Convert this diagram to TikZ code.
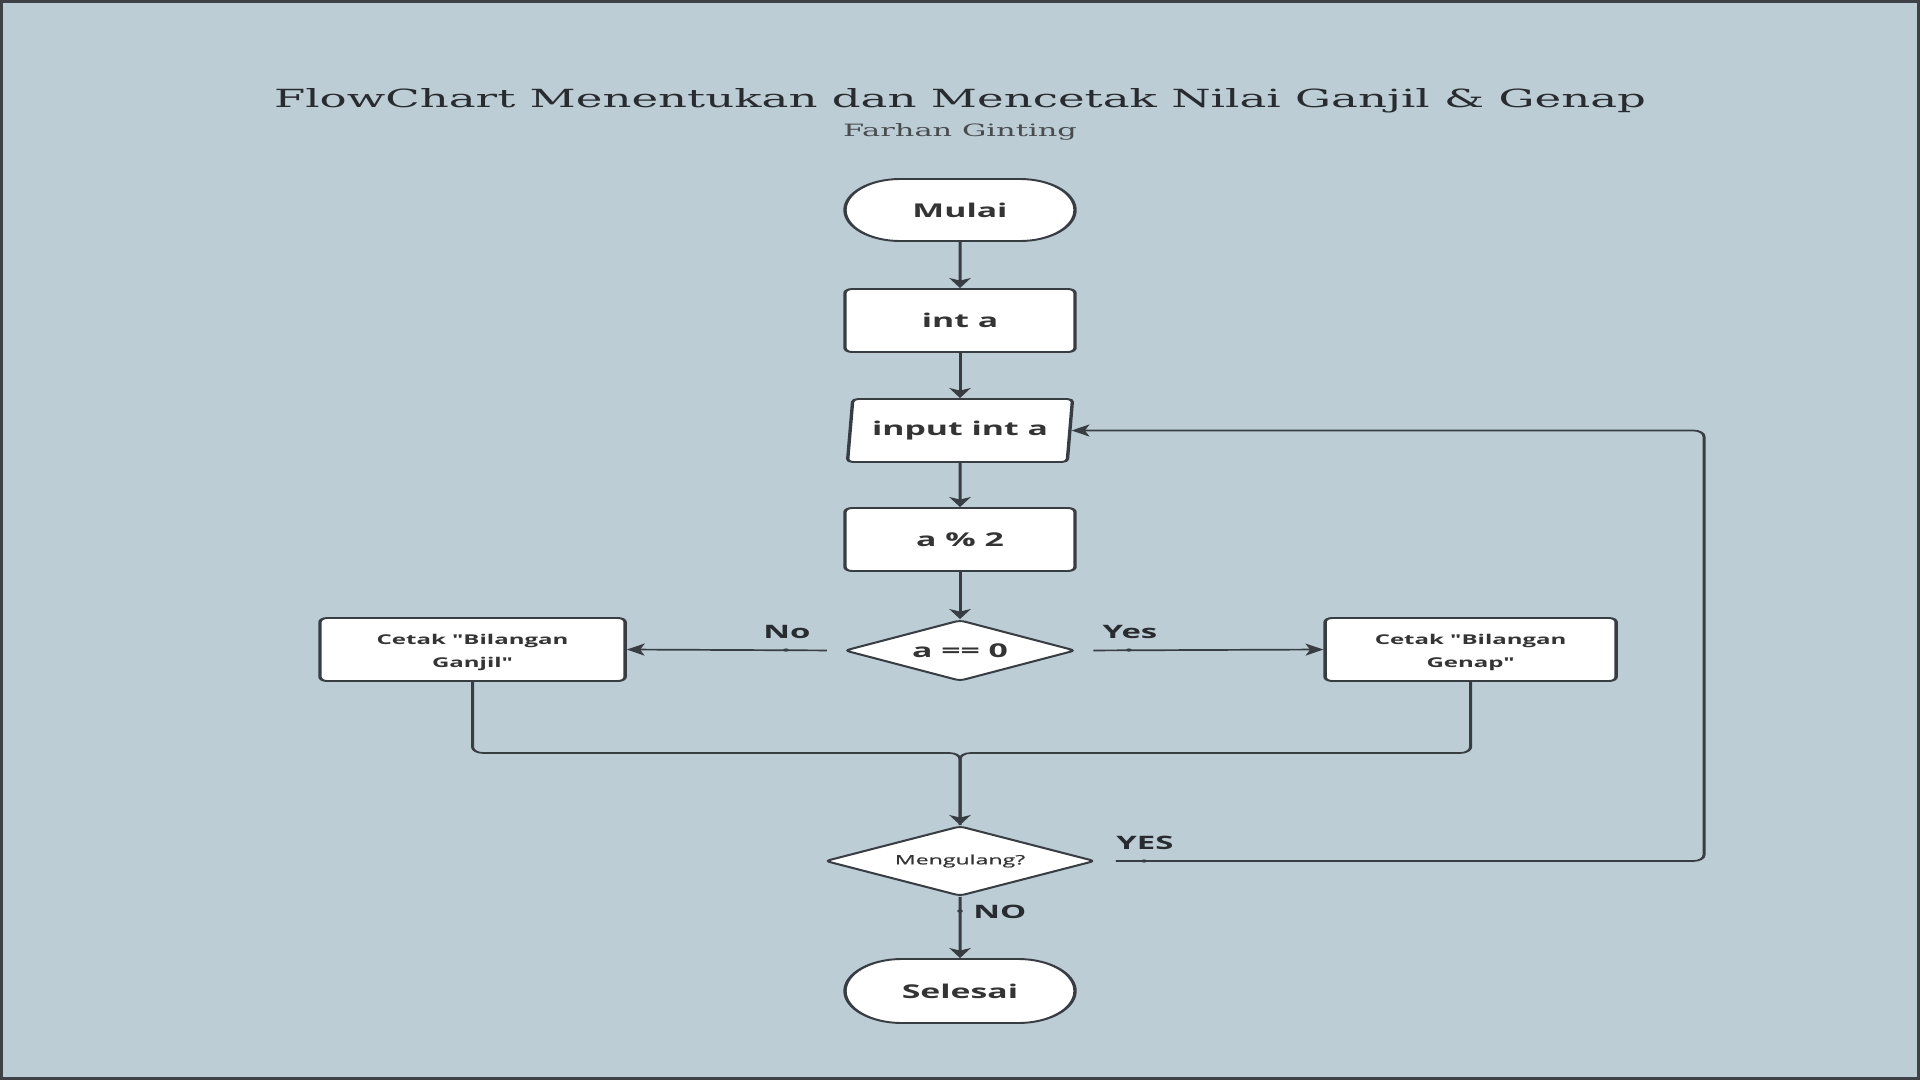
\documentclass[tikz,border=0pt]{standalone}
\usepackage{fontspec}
\setmainfont{Open Sans}[Ligatures=TeXOff]
\newfontfamily\titlefont{DejaVu Serif}
\newfontfamily\medfont{Open Sans}[FakeBold=0.6]
\usetikzlibrary{shapes.geometric,shapes.misc,arrows.meta,calc}
\definecolor{bgc}{RGB}{189,205,213}
\definecolor{linec}{RGB}{56,61,67}
\definecolor{txtc}{RGB}{52,52,52}
\definecolor{framec}{RGB}{62,66,70}
\definecolor{titlec}{RGB}{40,44,48}
\newlength\tw
\newlength\sw
\begin{document}
\settowidth\tw{\titlefont\fontsize{25}{25}\selectfont FlowChart Menentukan dan Mencetak Nilai Ganjil \& Genap}%
\pgfmathsetmacro\tsx{1372/\tw}%
\settowidth\sw{\titlefont\fontsize{17}{17}\selectfont Farhan Ginting}%
\pgfmathsetmacro\ssx{234/\sw}%
\begin{tikzpicture}[x=1pt,y=-1pt,
  shp/.style={draw=linec, line width=1.9pt, fill=white, text=txtc, inner sep=0pt, font=\bfseries\fontsize{19}{19}\selectfont},
  term/.style={shp, rounded rectangle, minimum width=129.4pt, minimum height=62pt},
  proc/.style={shp, rectangle, rounded corners=4pt, minimum width=129.4pt, minimum height=63pt},
  io/.style={shp, trapezium, trapezium left angle=81, trapezium right angle=99, trapezium stretches body, minimum width=126.6pt, minimum height=63pt, rounded corners=3pt},
  dec/.style={shp, diamond, rounded corners=3pt, aspect=2},
  outbox/.style={shp, rectangle, rounded corners=4pt, minimum height=63pt, align=center, font=\bfseries\fontsize{13.5}{22.5}\selectfont},
  conn/.style={draw=linec, line width=1.7pt},
  tip/.tip={Stealth[length=10pt,width=12pt,inset=2.5pt]},
  lbl/.style={text=titlec, inner sep=0pt, font=\bfseries\fontsize{18.5}{18.5}\selectfont}
]
\useasboundingbox (0,0) rectangle (1920,1080);
\fill[bgc] (0,0) rectangle (1920,1080);
\draw[framec, line width=3pt] (1.5,1.5) rectangle (1918.5,1078.5);

\node[anchor=base, inner sep=0pt, text=titlec] (title) at (960,107.5)
  {\scalebox{\tsx}[1]{\titlefont\fontsize{25}{25}\selectfont FlowChart Menentukan dan Mencetak Nilai Ganjil \& Genap}};
\node[anchor=base, inner sep=0pt, text=titlec!85!white] (sub) at (960,136.7)
  {\scalebox{\ssx}[1]{\titlefont\fontsize{17}{17}\selectfont Farhan Ginting}};

\begin{scope}[transform canvas={xscale=1.7778}]
\node[term] (mulai) at (540,210) {Mulai};
\node[proc] (inta) at (540,320.5) {int a};
\node[io] (inp) at (540,430.5) {input int a};
\node[proc] (mod) at (540,539.5) {a \% 2};
\node[dec, minimum width=130pt, minimum height=61pt] (eq) at (540,650.5) {a == 0};
\node[outbox, minimum width=171.6pt] (ganjil) at (265.8,649.5) {\rule{0pt}{16pt}Cetak "Bilangan\\Ganjil"};
\node[outbox, minimum width=163.7pt] (genap) at (827.2,649.5) {\rule{0pt}{16pt}Cetak "Bilangan\\Genap"};
\node[dec, minimum width=151.9pt, minimum height=70pt, font=\medfont\fontsize{13}{13}\selectfont] (meng) at (540,861) {Mengulang?};
\node[term, minimum height=64pt] (selesai) at (540,991) {Selesai};

\node[lbl] (lno) at (442.7,632) {No};
\node[lbl] (lyes) at (635.6,632) {Yes};
\node[lbl] (lyes2) at (644,843) {YES};
\node[lbl, anchor=west] (lno2) at (547.3,912) {NO};

\draw[conn,-tip] (mulai) -- (inta);
\draw[conn,-tip] (inta) -- (inp);
\draw[conn,-tip] (inp) -- (mod);
\draw[conn,-tip] (mod) -- (eq);
\draw[conn,-tip,shorten <=9pt] (eq.west) -- (ganjil.east);
\draw[conn,-tip,shorten <=9pt] (eq.east) -- (genap.west);
\coordinate (merge) at (540,753);
\draw[conn,rounded corners=6pt] (ganjil.south) |- (merge) -- (meng.north);
\draw[conn,rounded corners=6pt,-tip] (genap.south) |- (merge) -- (meng.north);
\coordinate (loopc) at (958.5,861);
\draw[conn,rounded corners=6pt,-tip,shorten <=10.7pt] (meng.east) -- (loopc) |- (inp.east);
\draw[conn,-tip] (meng) -- (selesai);

\fill[linec] (442.1,650) circle [radius=1.6];
\fill[linec] (635,650) circle [radius=1.6];
\fill[linec] (643.5,861) circle [radius=1.6];
\fill[linec] (540,911) circle [radius=1.6];
\end{scope}
\end{tikzpicture}
\end{document}
